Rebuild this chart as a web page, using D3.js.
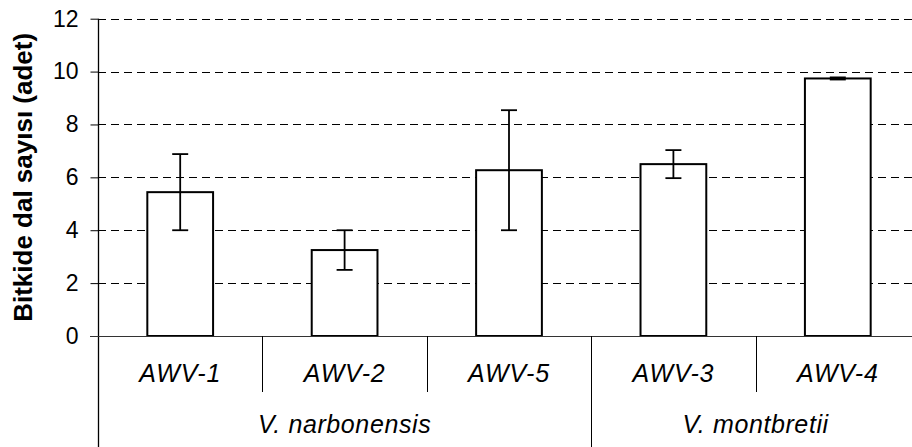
<!DOCTYPE html>
<html>
<head>
<meta charset="utf-8">
<script src="https://cdn.jsdelivr.net/npm/d3@7"></script>
<style>
  html, body { margin: 0; padding: 0; background: #fff; }
  svg { display: block; }
  text { font-family: Arial, "Liberation Sans", sans-serif; fill: #000; }
</style>
</head>
<body>
<svg id="chart" width="912" height="447"></svg>
<script>
// Branch counts per accession (mean and error)
const categories = ["AWV-1", "AWV-2", "AWV-5", "AWV-3", "AWV-4"];
const values = [5.44, 3.25, 6.27, 6.5, 9.74];
const errors = [1.44, 0.75, 2.27, 0.53, 0.04];
const groups = ["V. narbonensis", "V. narbonensis", "V. narbonensis", "V. montbretii", "V. montbretii"];
const groupNames = ["V. narbonensis", "V. montbretii"];
const yTicks = [0, 2, 4, 6, 8, 10, 12];
const yTitle = "Bitkide dal sayısı (adet)";

const svg = d3.select("#chart");
const plotLeft = 98, plotRight = 920, plotTop = 18.7, plotBase = 336;

const x = d3.scaleBand().domain(categories).range([plotLeft, plotRight]).paddingInner(0).paddingOuter(0);
const y = d3.scaleLinear().domain([0, 12]).range([plotBase, plotTop]);
const barW = x.bandwidth() * 0.4;

// dashed gridlines
svg.append("g").selectAll("line").data(yTicks.filter(t => t > 0)).join("line")
  .attr("x1", plotLeft).attr("x2", plotRight)
  .attr("y1", d => Math.round(y(d)) + 0.5).attr("y2", d => Math.round(y(d)) + 0.5)
  .attr("stroke", "#000").attr("stroke-width", 1).attr("stroke-dasharray", "8,5");

// y axis
const yAxis = d3.axisLeft(y).tickValues(yTicks).tickSize(8).tickPadding(12).tickFormat(d3.format("d"));
const gy = svg.append("g").attr("transform", `translate(${plotLeft + 0.5},0)`).call(yAxis);
gy.select(".domain").remove();
gy.selectAll(".tick line").attr("stroke", "#000");
gy.selectAll(".tick text").attr("font-size", 23).style("font-family", "Arial, 'Liberation Sans', sans-serif");
svg.append("line").attr("x1", plotLeft + 0.5).attr("x2", plotLeft + 0.5).attr("y1", plotTop).attr("y2", 447)
  .attr("stroke", "#000").attr("stroke-width", 1.3);

// bars
svg.append("g").selectAll("rect").data(categories).join("rect")
  .attr("x", d => x(d) + (x.bandwidth() - barW) / 2)
  .attr("width", barW)
  .attr("y", (d, i) => y(values[i]))
  .attr("height", (d, i) => plotBase - y(values[i]))
  .attr("fill", "#fff").attr("stroke", "#000").attr("stroke-width", 2);

// x axis baseline
svg.append("line").attr("x1", plotLeft - 8).attr("x2", plotRight).attr("y1", plotBase + 0.5).attr("y2", plotBase + 0.5)
  .attr("stroke", "#333").attr("stroke-width", 1);

// error bars
const eb = svg.append("g").attr("stroke", "#000").attr("stroke-width", 1.8);
categories.forEach((c, i) => {
  const cx = x(c) + x.bandwidth() / 2;
  const hi = y(values[i] + errors[i]), lo = y(values[i] - errors[i]);
  eb.append("line").attr("x1", cx).attr("x2", cx).attr("y1", hi).attr("y2", lo);
  eb.append("line").attr("x1", cx - 8).attr("x2", cx + 8).attr("y1", hi).attr("y2", hi);
  eb.append("line").attr("x1", cx - 8).attr("x2", cx + 8).attr("y1", lo).attr("y2", lo);
});

// category separators and labels
categories.forEach((c, i) => {
  if (i > 0) {
    const boundary = groups[i] !== groups[i - 1];
    const sx = Math.round(x(c)) + 0.5;
    svg.append("line").attr("x1", sx).attr("x2", sx).attr("y1", plotBase).attr("y2", boundary ? 447 : 392)
      .attr("stroke", "#000").attr("stroke-width", 1);
  }
  svg.append("text").attr("x", x(c) + x.bandwidth() / 2).attr("y", 382)
    .attr("text-anchor", "middle").attr("font-size", 25).attr("font-style", "italic")
    .attr("letter-spacing", 0.8).text(c);
});

// group labels
groupNames.forEach(g => {
  const members = categories.filter((c, i) => groups[i] === g);
  const x0 = x(members[0]), x1 = x(members[members.length - 1]) + x.bandwidth();
  svg.append("text").attr("x", (x0 + x1) / 2).attr("y", 433)
    .attr("text-anchor", "middle").attr("font-size", 25).attr("font-style", "italic")
    .attr("letter-spacing", 0.6).text(g);
});

// y title
svg.append("text").attr("transform", `translate(32,${(plotTop + plotBase) / 2}) rotate(-90)`)
  .attr("text-anchor", "middle").attr("font-size", 26).attr("font-weight", "bold").text(yTitle);
</script>
</body>
</html>
